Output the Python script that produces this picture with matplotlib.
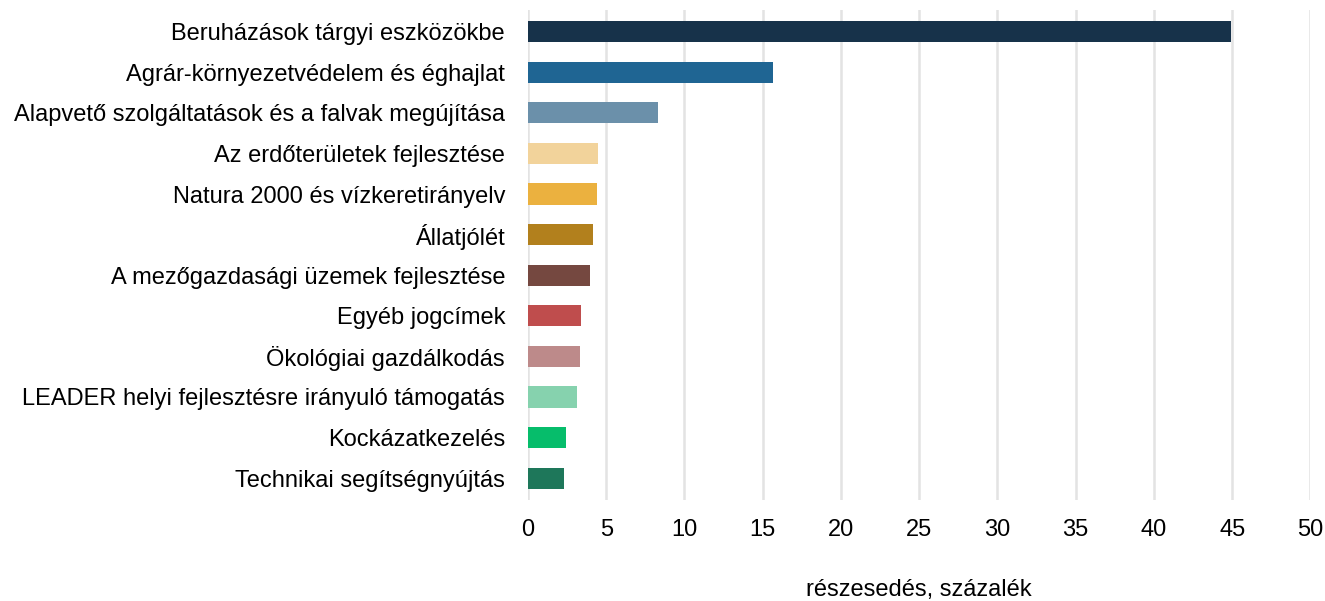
import numpy as np
import matplotlib
matplotlib.use('Agg')
import matplotlib.pyplot as plt

plt.rcParams['font.family'] = ['Liberation Sans', 'DejaVu Sans']

# Data (top to bottom)
categories = [
    'Beruházások tárgyi eszközökbe',
    'Agrár-környezetvédelem és éghajlat',
    'Alapvető szolgáltatások és a falvak megújítása',
    'Az erdőterületek fejlesztése',
    'Natura 2000 és vízkeretirányelv',
    'Állatjólét',
    'A mezőgazdasági üzemek fejlesztése',
    'Egyéb jogcímek',
    'Ökológiai gazdálkodás',
    'LEADER helyi fejlesztésre irányuló támogatás',
    'Kockázatkezelés',
    'Technikai segítségnyújtás',
]
shares = [44.9, 15.65, 8.3, 4.45, 4.4, 4.13, 3.96, 3.39, 3.32, 3.13, 2.43, 2.3]
colors = ['#17324a', '#1f6593', '#6b90aa', '#f2d39b', '#ebb13f', '#b2801d',
          '#754840', '#bf4d4d', '#bd8a8a', '#86d2ae', '#06bd6b', '#1e775a']
xticks = [0, 5, 10, 15, 20, 25, 30, 35, 40, 45, 50]

fig = plt.figure(figsize=(13.25, 6.01), dpi=100)
ax = fig.add_axes([0.3985, 0.168, 0.5905, 0.815])

y = np.arange(len(categories))
ax.barh(y, shares, height=0.52, color=colors, zorder=3)

ax.set_xlim(0, 50)
ax.set_ylim(11.54, -0.53)
ax.set_xticks(xticks)
ax.set_yticks(y)
ax.set_yticklabels(categories, fontsize=17)
ax.tick_params(axis='x', labelsize=17, length=0, pad=14)
ax.tick_params(axis='y', length=0, pad=16.5)

# light vertical gridlines, no frame
ax.grid(axis='x', color='#e3e3e3', linewidth=1.8, zorder=0)
for s in ax.spines.values():
    s.set_visible(False)

fig.text(0.6935, 0.0, 'részesedés, százalék', ha='center', va='bottom',
         fontsize=17)

fig.savefig('out.png', dpi=100)
